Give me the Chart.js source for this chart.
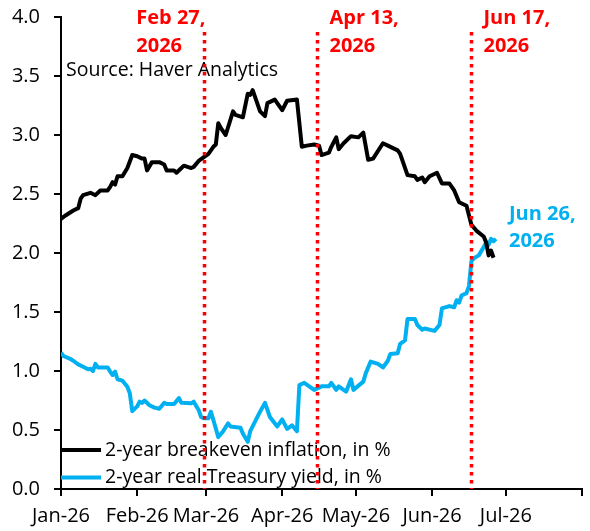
<!DOCTYPE html>
<html><head><meta charset="utf-8">
<script src="https://cdn.jsdelivr.net/npm/chart.js@4.4.1/dist/chart.umd.min.js"></script>
<style>html,body{margin:0;padding:0;background:#fff;}canvas{display:block;}</style>
</head><body>
<canvas id="c" width="590" height="531"></canvas>
<script>
const breakevenDates = ['2026-01-01','2026-01-03','2026-01-06','2026-01-08','2026-01-09','2026-01-10','2026-01-13','2026-01-15','2026-01-17','2026-01-20','2026-01-21','2026-01-22','2026-01-23','2026-01-24','2026-01-26','2026-01-28','2026-01-30','2026-02-01','2026-02-03','2026-02-04','2026-02-05','2026-02-07','2026-02-09','2026-02-10','2026-02-12','2026-02-13','2026-02-16','2026-02-17','2026-02-19','2026-02-20','2026-02-23','2026-02-24','2026-02-26','2026-02-28','2026-03-02','2026-03-04','2026-03-05','2026-03-06','2026-03-07','2026-03-09','2026-03-12','2026-03-13','2026-03-16','2026-03-18','2026-03-19','2026-03-20','2026-03-23','2026-03-25','2026-03-26','2026-03-29','2026-04-01','2026-04-03','2026-04-07','2026-04-09','2026-04-11','2026-04-14','2026-04-16','2026-04-17','2026-04-20','2026-04-21','2026-04-23','2026-04-24','2026-04-26','2026-04-29','2026-05-02','2026-05-04','2026-05-06','2026-05-08','2026-05-12','2026-05-14','2026-05-18','2026-05-19','2026-05-22','2026-05-25','2026-05-26','2026-05-28','2026-05-29','2026-05-31','2026-06-03','2026-06-05','2026-06-08','2026-06-10','2026-06-12','2026-06-15','2026-06-16','2026-06-17','2026-06-19','2026-06-22','2026-06-23','2026-06-24','2026-06-25','2026-06-26'];
const breakevenValues = [2.29,2.32,2.36,2.38,2.46,2.49,2.51,2.49,2.53,2.53,2.56,2.60,2.58,2.65,2.65,2.72,2.83,2.82,2.80,2.80,2.70,2.77,2.77,2.77,2.75,2.70,2.70,2.68,2.72,2.74,2.72,2.73,2.78,2.81,2.84,2.90,2.92,3.10,3.06,3.00,3.20,3.17,3.15,3.35,3.34,3.38,3.20,3.16,3.27,3.30,3.21,3.29,3.30,2.90,2.91,2.92,2.91,2.83,2.85,2.90,2.98,2.88,2.93,2.99,2.98,3.02,2.79,2.80,2.93,2.91,2.87,2.84,2.66,2.65,2.62,2.64,2.60,2.65,2.68,2.59,2.59,2.53,2.43,2.40,2.32,2.24,2.19,2.14,2.09,1.98,2.02,1.96];
const realDates = ['2026-01-01','2026-01-02','2026-01-05','2026-01-06','2026-01-08','2026-01-10','2026-01-12','2026-01-13','2026-01-14','2026-01-15','2026-01-16','2026-01-20','2026-01-21','2026-01-22','2026-01-23','2026-01-24','2026-01-26','2026-01-28','2026-01-29','2026-01-30','2026-02-01','2026-02-02','2026-02-03','2026-02-04','2026-02-06','2026-02-08','2026-02-10','2026-02-12','2026-02-13','2026-02-16','2026-02-18','2026-02-19','2026-02-23','2026-02-24','2026-02-26','2026-02-27','2026-02-28','2026-03-02','2026-03-03','2026-03-04','2026-03-06','2026-03-08','2026-03-10','2026-03-11','2026-03-15','2026-03-16','2026-03-18','2026-03-19','2026-03-23','2026-03-25','2026-03-27','2026-03-30','2026-04-01','2026-04-03','2026-04-05','2026-04-07','2026-04-08','2026-04-10','2026-04-14','2026-04-17','2026-04-20','2026-04-21','2026-04-23','2026-04-24','2026-04-27','2026-04-29','2026-04-30','2026-05-04','2026-05-05','2026-05-07','2026-05-10','2026-05-12','2026-05-14','2026-05-15','2026-05-18','2026-05-19','2026-05-21','2026-05-22','2026-05-25','2026-05-26','2026-05-28','2026-05-29','2026-06-02','2026-06-04','2026-06-05','2026-06-08','2026-06-10','2026-06-11','2026-06-12','2026-06-13','2026-06-15','2026-06-16','2026-06-17','2026-06-18','2026-06-20','2026-06-22','2026-06-23','2026-06-24','2026-06-25','2026-06-26','2026-06-27'];
const realValues = [1.155,1.127,1.10,1.087,1.056,1.036,1.014,1.02,1.00,1.06,1.03,1.03,0.995,0.966,0.995,0.93,0.918,0.867,0.81,0.66,0.70,0.74,0.73,0.75,0.71,0.69,0.68,0.73,0.72,0.72,0.77,0.73,0.726,0.74,0.67,0.61,0.60,0.60,0.655,0.585,0.44,0.49,0.556,0.53,0.52,0.47,0.40,0.49,0.655,0.73,0.61,0.53,0.59,0.51,0.54,0.49,0.88,0.90,0.84,0.87,0.87,0.90,0.84,0.87,0.825,0.93,0.84,0.91,0.98,1.08,1.06,1.03,1.087,1.144,1.15,1.23,1.26,1.44,1.44,1.39,1.35,1.36,1.34,1.39,1.53,1.55,1.54,1.60,1.58,1.64,1.66,1.72,1.93,1.955,1.98,2.05,2.09,2.07,2.12,2.10,2.12];
const xTickDates = ['2026-01-01','2026-02-01','2026-03-01','2026-04-01','2026-05-01','2026-06-01','2026-07-01','2026-08-01'];
const xTickLabels = ['Jan-26','Feb-26','Mar-26','Apr-26','May-26','Jun-26','Jul-26',''];
const markerDates = ['2026-02-28','2026-04-15','2026-06-17'];
const markerLabels = [['Feb 27,','2026'],['Apr 13,','2026'],['Jun 17,','2026']];
const calloutLabel = ['Jun 26,','2026'];
const sourceText = 'Source: Haver Analytics';
const seriesNames = ['2-year breakeven inflation, in %','2-year real Treasury yield, in %'];

const FONT = "'Open Sans', sans-serif";
const BLUE = '#00B0F0';
const RED = '#FF0000';
function dayIndex(s){const p=s.split('-').map(Number);return (Date.UTC(p[0],p[1]-1,p[2])-Date.UTC(2026,0,1))/86400000;}

const overlay = {
  id:'overlay',
  afterDatasetsDraw(chart){
    const ctx=chart.ctx, xs=chart.scales.x, ys=chart.scales.y, ca=chart.chartArea;
    ctx.save();
    // source
    ctx.fillStyle='#000'; ctx.font="19.5px "+FONT; ctx.textBaseline='alphabetic'; ctx.textAlign='left';
    ctx.fillText(sourceText, ca.left+5, 76);
    // legend
    chart.data.datasets.forEach((ds,i)=>{
      const y = 450 + i*27.5;
      ctx.strokeStyle=ds.borderColor; ctx.lineWidth=4; ctx.lineCap='butt';
      ctx.beginPath(); ctx.moveTo(ca.left,y); ctx.lineTo(ca.left+40,y); ctx.stroke();
      ctx.fillStyle='#000'; ctx.font="19.5px "+FONT; ctx.textBaseline='middle';
      ctx.fillText(ds.label, ca.left+44, y);
    });
    // callout at end of real yield series
    const last = chart.getDatasetMeta(1).data.slice(-1)[0];
    ctx.fillStyle=BLUE; ctx.font="bold 20px "+FONT; ctx.textBaseline='alphabetic'; ctx.textAlign='left';
    ctx.fillText(calloutLabel[0], last.x+13, last.y-19);
    ctx.fillText(calloutLabel[1], last.x+13, last.y+8);
    // markers
    markerDates.forEach((d,i)=>{
      const x = Math.round(xs.getPixelForValue(dayIndex(d)))+0.5;
      ctx.strokeStyle=RED; ctx.lineWidth=3.5; ctx.setLineDash([3.5,4.5]);
      ctx.beginPath(); ctx.moveTo(x, ca.top+15); ctx.lineTo(x, ca.bottom); ctx.stroke();
      ctx.setLineDash([]);
      ctx.fillStyle=RED; ctx.font="bold 20px "+FONT; ctx.textAlign='left'; ctx.textBaseline='alphabetic';
      let left;
      if(i===0){ left = x - ctx.measureText(markerLabels[i][0]).width + 1; }
      else { left = x + 12; }
      ctx.fillText(markerLabels[i][0], left, ca.top+7);
      ctx.fillText(markerLabels[i][1], left, ca.top+35);
    });
    ctx.restore();
  }
};

new Chart(document.getElementById('c'),{
  type:'line',
  data:{datasets:[
    {label:seriesNames[0], data:breakevenDates.map((d,i)=>({x:dayIndex(d),y:breakevenValues[i]})), borderColor:'#000', borderWidth:4, pointRadius:0, tension:0, borderJoinStyle:'round'},
    {label:seriesNames[1], data:realDates.map((d,i)=>({x:dayIndex(d),y:realValues[i]})), borderColor:BLUE, borderWidth:4, pointRadius:0, tension:0, borderJoinStyle:'round'}
  ]},
  options:{
    responsive:false, animation:false, devicePixelRatio:1,
    layout:{padding:{left:0,top:17,right:8,bottom:0}},
    plugins:{legend:{display:false},tooltip:{enabled:false}},
    scales:{
      x:{type:'linear',min:0,max:dayIndex(xTickDates[xTickDates.length-1]),
        afterBuildTicks:s=>{s.ticks=xTickDates.map(d=>({value:dayIndex(d)}));},
        afterFit:s=>{s.height=42; s.paddingLeft=0; s.paddingRight=0;},
        ticks:{callback:(v,i)=>xTickLabels[i],autoSkip:false,maxRotation:0,color:'#000',font:{family:FONT,size:20},padding:8},
        grid:{drawOnChartArea:false,drawTicks:true,tickLength:7,color:'#000',lineWidth:2},
        border:{color:'#000',width:2}},
      y:{min:0,max:4,
        afterFit:s=>{s.width=61; s.paddingTop=0; s.paddingBottom=0;},
        ticks:{stepSize:0.5,callback:v=>v.toFixed(1),color:'#000',font:{family:FONT,size:20},padding:14},
        grid:{drawOnChartArea:false,drawTicks:true,tickLength:7,color:'#000',lineWidth:2},
        border:{color:'#000',width:2}}
    }
  },
  plugins:[overlay]
});
</script>
</body></html>
